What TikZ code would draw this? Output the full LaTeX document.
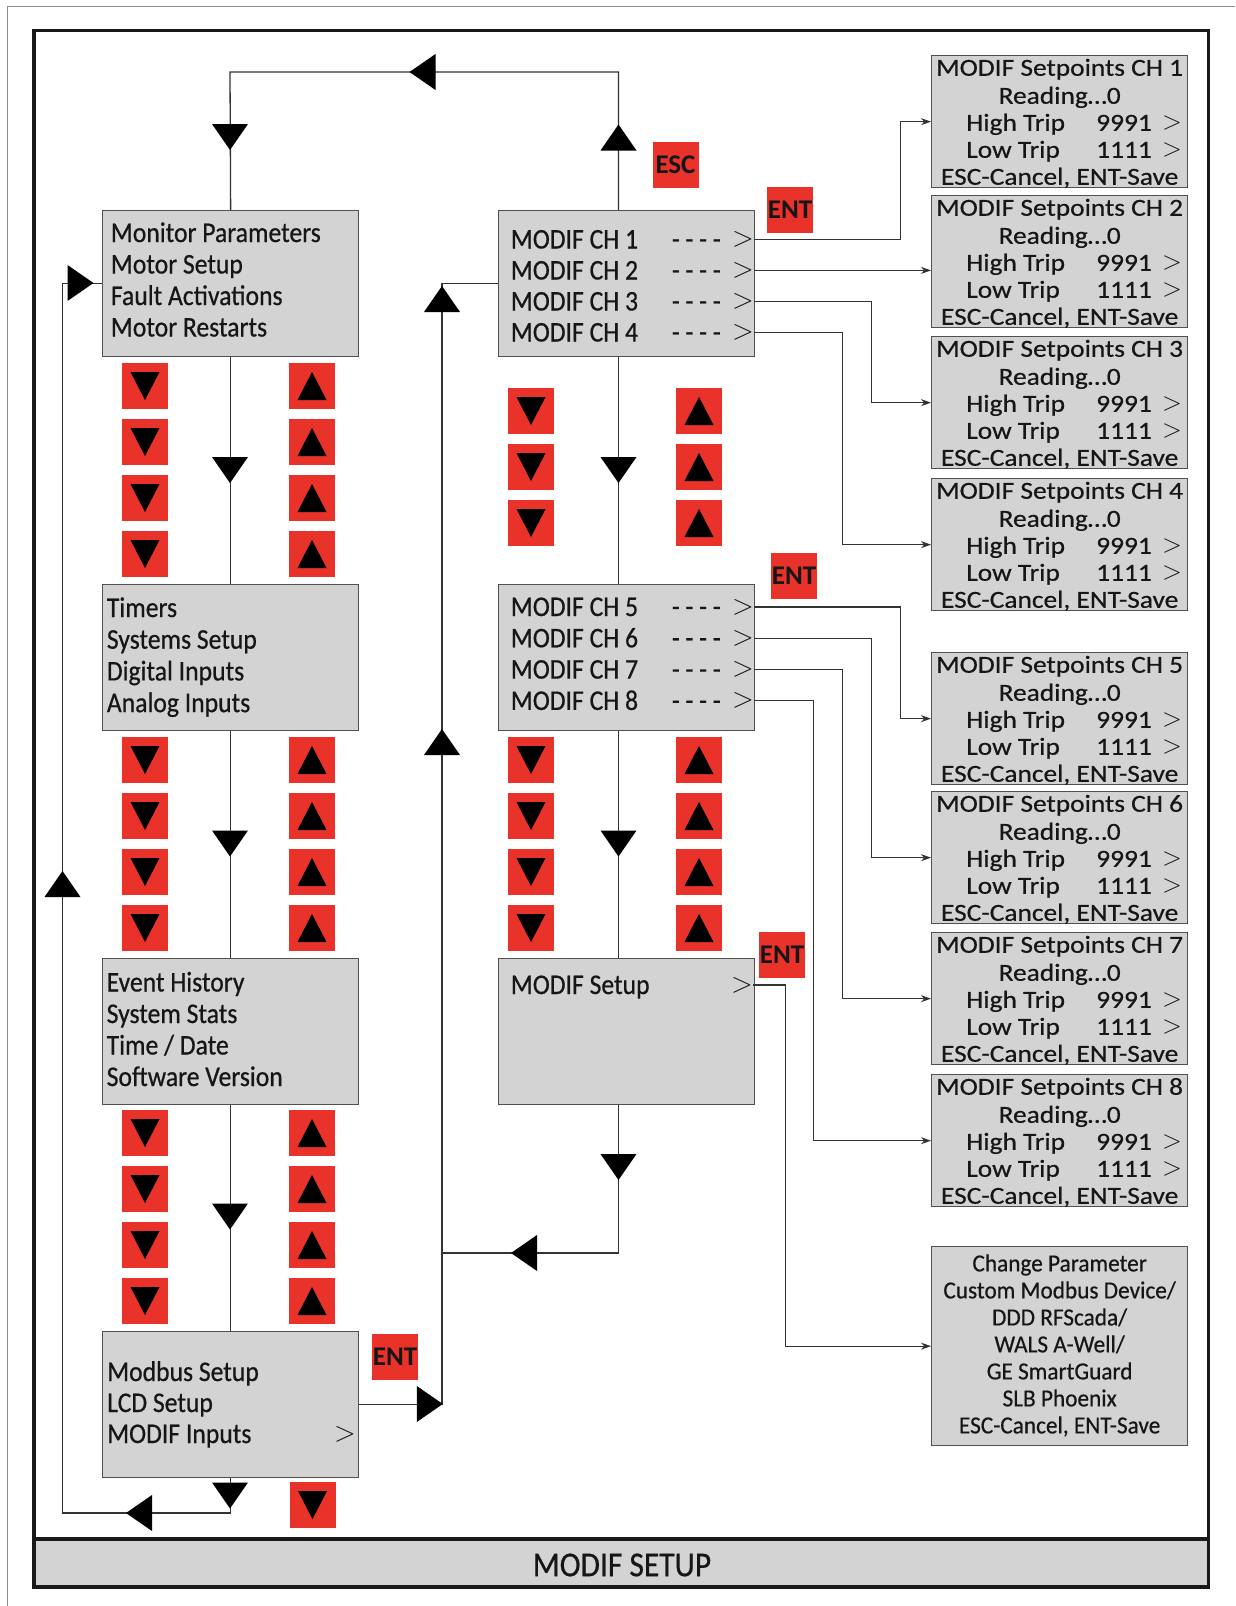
\documentclass[tikz,border=0pt]{standalone}
\usepackage{fontspec}
\newfontfamily\mnfont{Carlito}[FakeStretch=0.9,FakeBold=0.6]
\newfontfamily\spfont{Carlito}[FakeStretch=1.12,FakeBold=0.5]
\newfontfamily\cpfont{Carlito}[FakeStretch=0.95,FakeBold=0.5]
\newfontfamily\kyfont{Carlito}
\usetikzlibrary{calc,arrows.meta}
\definecolor{keyred}{RGB}{232,50,42}
\definecolor{panelgray}{RGB}{211,211,211}
\definecolor{edgegray}{RGB}{80,80,80}
\definecolor{ink}{RGB}{22,22,22}

% one line per text row of a menu panel
\newcommand\menulines[5]{%
  \foreach \txt [count=\i] in {#5} {%
    \node[mntxt, anchor=base west] (#1-\i) at ($(#1.north west)+(#2,#3+#4*\i-#4+9)$) {\txt};}}

% a channel setpoint panel
\newcommand\setpointbox[3]{%
  \node[spbox] (#1) at (931,#2) {};
  \node[sptxt, anchor=base] (#1-h) at ($(#1.north)+(0,20.75)$) {MODIF Setpoints CH #3};
  \node[sptxt, anchor=base] (#1-r) at ($(#1.north)+(0,48.75)$) {Reading…0};
  \node[sptxt, anchor=base west] (#1-hi) at ($(#1.north west)+(35,75.75)$) {High Trip};
  \node[sptxt, anchor=base east] (#1-hv) at ($(#1.north west)+(221,75.75)$) {9991};
  \node[gtsmall, anchor=base east] (#1-hg) at ($(#1.north west)+(251,74.5)$) {>};
  \node[sptxt, anchor=base west] (#1-lo) at ($(#1.north west)+(35,102.75)$) {Low Trip};
  \node[sptxt, anchor=base east] (#1-lv) at ($(#1.north west)+(221,102.75)$) {1111};
  \node[gtsmall, anchor=base east] (#1-lg) at ($(#1.north west)+(251,101.5)$) {>};
  \node[sptxt, anchor=base] (#1-f) at ($(#1.north)+(0,129.75)$) {ESC-Cancel, ENT-Save};}

\begin{document}
\begin{tikzpicture}[x=1pt,y=-1pt,
  panel/.style={draw=edgegray, line width=1.3pt, fill=panelgray, inner sep=0pt, anchor=north west},
  menubox/.style={panel, minimum width=256pt, minimum height=146pt},
  spbox/.style={panel, minimum width=256pt, minimum height=132pt},
  mntxt/.style={inner sep=0pt, text=ink, font=\mnfont\fontsize{28.5}{31}\selectfont},
  sptxt/.style={inner sep=0pt, text=ink, font=\spfont\fontsize{24.5}{27}\selectfont},
  cptxt/.style={inner sep=0pt, text=ink, font=\cpfont\fontsize{24.5}{27}\selectfont},
  gtbig/.style={inner sep=0pt, text=ink, font=\rmfamily\fontsize{28.5}{31}\selectfont},
  gtsmall/.style={inner sep=0pt, text=ink, font=\rmfamily\fontsize{26}{27}\selectfont},
  key/.style={fill=keyred, minimum size=46pt, inner sep=0pt, text=ink,
    font=\kyfont\bfseries\fontsize{27}{27}\selectfont},
  btn/.style={fill=keyred, minimum size=46pt, inner sep=0pt},
  downbtn/.style={btn, path picture={\fill[black]
      ($(path picture bounding box.center)+(-14.5,-14)$) --
      ($(path picture bounding box.center)+(14.5,-14)$) --
      ($(path picture bounding box.center)+(0,14)$) -- cycle;}},
  upbtn/.style={btn, path picture={\fill[black]
      ($(path picture bounding box.center)+(-14.5,14)$) --
      ($(path picture bounding box.center)+(14.5,14)$) --
      ($(path picture bounding box.center)+(0,-14)$) -- cycle;}},
  conn/.style={draw=black!80, line width=1.3pt},
  feed/.style={conn, -{Stealth[length=10pt,width=7pt]}},
  bigtri/.pic={\fill[black] (-13,-18) -- (13,0) -- (-13,18) -- cycle;}
]
\useasboundingbox (0,0) rectangle (1235,1606);
\fill[white] (0,0) rectangle (1235,1606);

% sheet edge and frame with caption band
\draw[black!45, line width=0.8pt] (7,1606) -- (7,6) -- (1235,6);
\fill[panelgray] (34,1539) rectangle (1208.5,1587);
\draw[black!90, line width=3.5pt] (34,30.7) rectangle (1208.5,1587);
\draw[black!90, line width=3.5pt] (34,1539) -- (1208.5,1539);
\node[mntxt, font=\mnfont\fontsize{35}{35}\selectfont] (title) at (622,1565) {MODIF SETUP};

% routing columns
\coordinate (mx) at (618.5,0);
\coordinate (tl) at (230,72);
\coordinate (lb) at (62.5,1513);
\coordinate (jx) at (442,1253);
\coordinate (r1) at (900.7,0);
\coordinate (r2) at (871.5,0);
\coordinate (r3) at (842.7,0);
\coordinate (r4) at (813.8,0);
\coordinate (r5) at (785.5,0);

% main menu panels
\node[menubox] (b1) at (102,210) {};
\node[menubox] (b2) at (102,584) {};
\node[menubox] (b3) at (102,958) {};
\node[menubox] (b4) at (102,1331) {};
\node[menubox] (m1) at (498,210) {};
\node[menubox] (m2) at (498,584) {};
\node[menubox] (m3) at (498,958) {};

\menulines{b1}{8.7}{23}{31.5}{Monitor Parameters, Motor Setup, Fault Activations, Motor Restarts}
\menulines{b2}{4.7}{24}{31.7}{Timers, Systems Setup, Digital Inputs, Analog Inputs}
\menulines{b3}{4.5}{24.5}{31.5}{Event History, System Stats, Time / Date, Software Version}
\menulines{b4}{5}{41}{31}{Modbus Setup, LCD Setup, MODIF Inputs}
\node[gtbig, anchor=base east] (b4g) at ($(b4.north west)+(254,110)$) {>};

\foreach \i in {1,...,4} {
  \node[mntxt, anchor=base west] (m1-\i) at ($(m1.north west)+(12.7,29.5+31*\i-31+9)$) {MODIF CH \i};
  \node[mntxt, anchor=base west] (m1d-\i) at ($(m1.north west)+(173.7,29.5+31*\i-31+9)$) {- - - -};
  \node[gtbig, anchor=base east] (m1g-\i) at ($(m1.north west)+(256,29.5+31*\i-31+7)$) {>};
}
\foreach \i/\c in {1/5,2/6,3/7,4/8} {
  \node[mntxt, anchor=base west] (m2-\i) at ($(m2.north west)+(12.7,23+31.3*\i-31.3+9)$) {MODIF CH \c};
  \node[mntxt, anchor=base west] (m2d-\i) at ($(m2.north west)+(173.7,23+31.3*\i-31.3+9)$) {- - - -};
  \node[gtbig, anchor=base east] (m2g-\i) at ($(m2.north west)+(256,23+31.3*\i-31.3+7)$) {>};
}
\node[mntxt, anchor=base west] (m3-1) at ($(m3.north west)+(12.7,36)$) {MODIF Setup};
\node[gtbig, anchor=base east] (m3g) at ($(m3.north west)+(255,34)$) {>};

% setpoint panels
\setpointbox{s1}{55}{1}
\setpointbox{s2}{195}{2}
\setpointbox{s3}{336}{3}
\setpointbox{s4}{478}{4}
\setpointbox{s5}{652}{5}
\setpointbox{s6}{791}{6}
\setpointbox{s7}{932}{7}
\setpointbox{s8}{1074}{8}

\node[spbox, minimum height=199pt] (cp) at (931,1246) {};
\foreach \txt [count=\i] in {Change Parameter, Custom Modbus Device/, DDD RFScada/, WALS A-Well/, GE SmartGuard, SLB Phoenix, {ESC-Cancel, ENT-Save}}
  \node[cptxt, anchor=base] (cp-\i) at ($(cp.north)+(0,17.6+27*\i-27+7.75)$) {\txt};

% navigation flow
\draw[conn] (mx |- m1.north) |- (tl) -- (b1.north);
\draw[conn] (b1.south) -- (b2.north);
\draw[conn] (b2.south) -- (b3.north);
\draw[conn] (b3.south) -- (b4.north);
\draw[conn] (b4.south) |- (lb) |- (b1.west);
\draw[conn] (b4.east) -| (jx) |- (m1.west);
\draw[conn] (mx |- m1.south) -- (mx |- m2.north);
\draw[conn] (mx |- m2.south) -- (mx |- m3.north);
\draw[conn] (mx |- m3.south) |- (jx);

% channel selections into setpoint panels
\draw[feed] (m1g-1.east) -| (r1 |- s1.west) -- (s1.west);
\draw[feed] (m1g-2.east) -- (m1g-2.east -| s2.west);
\draw[feed] (m1g-3.east) -| (r2 |- s3.west) -- (s3.west);
\draw[feed] (m1g-4.east) -| (r3 |- s4.west) -- (s4.west);
\draw[feed] (m2g-1.east) -| (r1 |- s5.west) -- (s5.west);
\draw[feed] (m2g-2.east) -| (r2 |- s6.west) -- (s6.west);
\draw[feed] (m2g-3.east) -| (r3 |- s7.west) -- (s7.west);
\draw[feed] (m2g-4.east) -| (r4 |- s8.west) -- (s8.west);
\draw[feed] (m3g.east) -| (r5 |- cp.west) -- (cp.west);

% direction markers on the flow lines
\pic[rotate=180] at (422.5,72) {bigtri};
\pic[rotate=-90] at (230,137) {bigtri};
\pic[rotate=90] at (618.5,137.5) {bigtri};
\foreach \y in {470,843.5,1216.5,1495.5} \pic[rotate=-90] at (230,\y) {bigtri};
\pic[rotate=180] at (139,1513) {bigtri};
\pic[rotate=90] at (62.5,884) {bigtri};
\pic at (80.5,283) {bigtri};
\pic[rotate=90] at (442,299) {bigtri};
\pic[rotate=90] at (442,742) {bigtri};
\pic at (429.8,1404) {bigtri};
\foreach \y in {470,843.5,1167} \pic[rotate=-90] at (618.5,\y) {bigtri};
\pic[rotate=180] at (524,1253) {bigtri};

% arrow keys
\foreach \y [count=\k] in {386,442,498,554,760,816,872,928,1133,1189,1245,1301} {
  \node[downbtn] (ld\k) at (145,\y) {};
  \node[upbtn] (lu\k) at (312,\y) {};
}
\node[downbtn] (ldx) at (312.5,1505) {};
\foreach \y [count=\k] in {411,467,523,760,816,872,928} {
  \node[downbtn] (md\k) at (531,\y) {};
  \node[upbtn] (mu\k) at (699,\y) {};
}

% ESC / ENT keys
\node[key] (esc) at (675.5,165) {ESC};
\node[key] (ent1) at (790,210) {ENT};
\node[key] (ent2) at (794,576) {ENT};
\node[key] (ent3) at (782,955) {ENT};
\node[key] (ent4) at (395,1357) {ENT};
\end{tikzpicture}
\end{document}
